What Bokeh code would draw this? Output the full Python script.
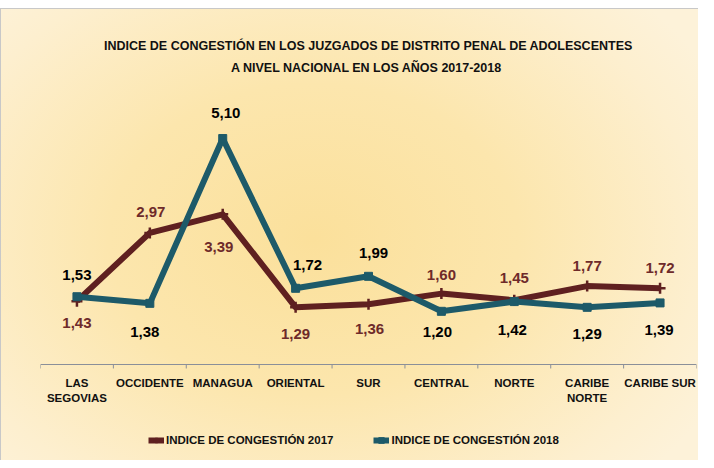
from bokeh.plotting import figure
from bokeh.models import Range1d, Legend, LegendItem, Title, ColumnDataSource, Span
from bokeh.core.properties import value
from bokeh.embed import file_html
from bokeh.resources import INLINE

# ---- data ----
categories = ["LAS SEGOVIAS", "OCCIDENTE", "MANAGUA", "ORIENTAL", "SUR",
              "CENTRAL", "NORTE", "CARIBE NORTE", "CARIBE SUR"]
tick_line1 = ["LAS", "OCCIDENTE", "MANAGUA", "ORIENTAL", "SUR",
              "CENTRAL", "NORTE", "CARIBE", "CARIBE SUR"]
tick_line2 = ["SEGOVIAS", "", "", "", "", "", "", "NORTE", ""]
values_2017 = [1.43, 2.97, 3.39, 1.29, 1.36, 1.60, 1.45, 1.77, 1.72]
values_2018 = [1.53, 1.38, 5.10, 1.72, 1.99, 1.20, 1.42, 1.29, 1.39]
series_names = ["INDICE DE CONGESTIÓN 2017", "INDICE DE CONGESTIÓN 2018"]
title_lines = ["INDICE DE CONGESTIÓN EN LOS JUZGADOS DE DISTRITO PENAL DE ADOLESCENTES",
               "A NIVEL NACIONAL  EN LOS AÑOS 2017-2018"]

# ---- label placement (style, screen px; positive = down) ----
dy_2017 = [22, -21, 33, 27, 25, -19, -22, -20, -20]
dx_2017 = [0, 1, -4, 0, 1, 0, 0, 0, 0]
dy_2018 = [-22, 29, -26, -23, -23, 21, 28, 27, 27]
dx_2018 = [0, -5, 3, 12, 5, -4, -2, 0, -1]

C17 = "#5f2020"
C17_LABEL = "#6e2a2a"
C18 = "#1d5a69"
AXIS_C = "#8a8f99"
FONT = "Liberation Sans"

def fmt(v):
    return f"{v:.2f}".replace(".", ",")

n = len(categories)
xs = [i + 0.5 for i in range(n)]
bounds = list(range(n + 1))

src17 = ColumnDataSource(dict(x=xs, y=values_2017, t=[fmt(v) for v in values_2017],
                              dx=dx_2017, dy=dy_2017))
src18 = ColumnDataSource(dict(x=xs, y=values_2018, t=[fmt(v) for v in values_2018],
                              dx=dx_2018, dy=dy_2018))
src_cat = ColumnDataSource(dict(x=xs, y=[0] * n, l1=tick_line1, l2=tick_line2))

p = figure(width=698, height=460, output_backend="svg", toolbar_location=None,
           x_range=Range1d(0, n), y_range=Range1d(-2.167, 6.41),
           min_border_left=40, min_border_right=2, min_border_top=80, min_border_bottom=0)

p.background_fill_color = None
p.border_fill_color = None
p.outline_line_color = None
p.styles = {
    "background": ("linear-gradient(#c8c8c8, #c8c8c8) 0 8px / 100% 1px no-repeat, "
                   "linear-gradient(#ffffff, #ffffff) 0 0 / 100% 8px no-repeat, "
                   "linear-gradient(#c8c8c8, #c8c8c8) 0 0 / 1px 100% no-repeat, "
                   "radial-gradient(ellipse 65% 75% at 45% 52%, #fbe09b 0%, #fce6ad 45%, #fdefcf 85%, #fdf2d9 100%)"),
}

p.grid.visible = False
p.xaxis.visible = False
p.yaxis.visible = False

# category axis: baseline, boundary ticks, two-line category labels
p.add_layout(Span(location=0, dimension="width", line_color=AXIS_C, line_width=1.2))
p.segment(x0=bounds, y0=[0] * (n + 1), x1=bounds, y1=[-0.09] * (n + 1),
          line_color=AXIS_C, line_width=1)
p.text("x", "y", text="l1", source=src_cat, y_offset=19,
       text_align="center", text_baseline="middle", text_color="#111111",
       text_font=value(FONT), text_font_size="11.5px", text_font_style="bold")
p.text("x", "y", text="l2", source=src_cat, y_offset=34,
       text_align="center", text_baseline="middle", text_color="#111111",
       text_font=value(FONT), text_font_size="11.5px", text_font_style="bold")

l17 = p.line("x", "y", source=src17, line_color=C17, line_width=6, line_join="round")
m17 = p.scatter("x", "y", source=src17, marker="cross", size=11, line_color=C17, line_width=2.5)
l18 = p.line("x", "y", source=src18, line_color=C18, line_width=6, line_join="round")
m18 = p.scatter("x", "y", source=src18, marker="square", size=8, fill_color=C18, line_color=C18)

p.text("x", "y", text="t", source=src17, x_offset="dx", y_offset="dy",
       text_align="center", text_baseline="middle", text_color=C17_LABEL,
       text_font=value(FONT), text_font_size="15px", text_font_style="bold")
p.text("x", "y", text="t", source=src18, x_offset="dx", y_offset="dy",
       text_align="center", text_baseline="middle", text_color="#000000",
       text_font=value(FONT), text_font_size="15px", text_font_style="bold")

legend = Legend(items=[LegendItem(label=series_names[0], renderers=[l17, m17]),
                       LegendItem(label=series_names[1], renderers=[l18, m18])],
                orientation="horizontal", location=(108, 13),
                background_fill_alpha=0, border_line_color=None,
                label_text_font=FONT, label_text_font_size="11.5px",
                label_text_font_style="bold", label_text_color="#111111",
                glyph_width=16, glyph_height=14, label_standoff=2, spacing=40,
                padding=2, margin=0)
p.add_layout(legend, "center")

p.add_layout(Title(text=title_lines[1], align="center", text_font=FONT,
                   text_font_size="12.5px", text_font_style="bold", text_color="#111111",
                   standoff=12), "above")
p.add_layout(Title(text=title_lines[0], align="center", text_font=FONT,
                   text_font_size="12.5px", text_font_style="bold", text_color="#111111",
                   standoff=0), "above")

open("out.html", "w").write(file_html(p, INLINE))
